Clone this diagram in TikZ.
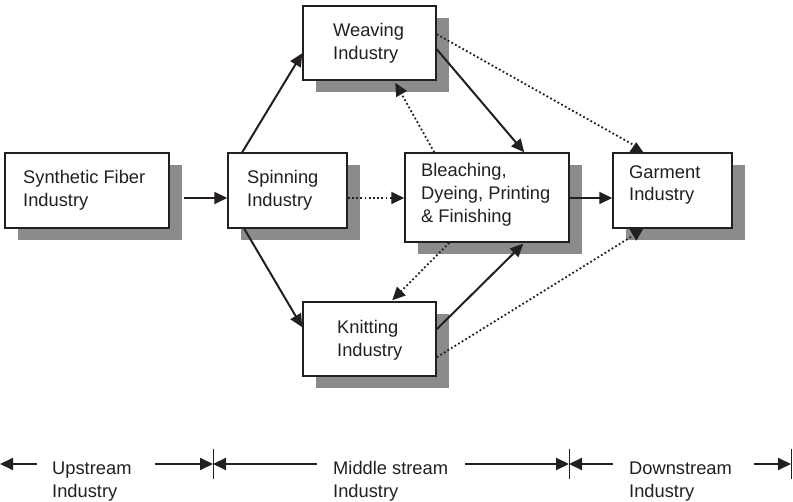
\documentclass[tikz,border=0pt]{standalone}
\usepackage{fontspec}
\setmainfont{Liberation Sans}
\usetikzlibrary{arrows.meta,calc,shadows}
\definecolor{ink}{HTML}{231F20}
\definecolor{shade}{HTML}{8B8B8D}
\begin{document}
\begin{tikzpicture}[x=1pt,y=-1pt,
  boxnode/.style={draw=ink, line width=1.5pt, fill=white, rectangle, inner sep=0pt,
    drop shadow={shadow xshift=13pt, shadow yshift=-12pt, fill=shade, opacity=1}},
  txt/.style={text=ink, font=\fontsize{18.3}{22.8}\selectfont, align=left, anchor=west, inner sep=0pt},
  con/.style={draw=ink, line width=2pt, -{Triangle[length=13pt,width=12pt]}},
  dotcon/.style={con, line width=1.8pt, dash pattern=on 1.8pt off 2.4pt},
  dotline/.style={draw=ink, line width=1.8pt, dash pattern=on 1.8pt off 2.4pt},
  tickline/.style={draw=ink, line width=1pt},
  barcon/.style={draw=ink, line width=2pt, -{Triangle[length=13pt,width=12pt]}}
]
\useasboundingbox (0,0) rectangle (793,502);

% boxes
\node[boxnode, minimum width=164pt, minimum height=75pt] (syn) at (87,190.5) {};
\node[boxnode, minimum width=119pt, minimum height=75pt] (spin) at (287.5,190.5) {};
\node[boxnode, minimum width=133pt, minimum height=74pt] (weav) at (369.5,43) {};
\node[boxnode, minimum width=133pt, minimum height=74pt] (knit) at (369.5,339) {};
\node[boxnode, minimum width=164pt, minimum height=89pt] (bleach) at (487,197.5) {};
\node[boxnode, minimum width=119pt, minimum height=75pt] (garm) at (672.5,190.5) {};

% texts
\node[txt] (synT) at (23,190) {Synthetic Fiber\\Industry};
\node[txt] (spinT) at (247,190) {Spinning\\Industry};
\node[txt] (weavT) at (333,43) {Weaving\\Industry};
\node[txt] (knitT) at (337,340.5) {Knitting\\Industry};
\node[txt] (bleachT) at (421,194.5) {Bleaching,\\Dyeing, Printing\\\& Finishing};
\node[txt] (garmT) at (629,185) {Garment\\Industry};

% connectors
\draw[con] ($(syn.east)+(14,7.5)$) -- ($(spin.west)+(0,7.5)$);
\draw[con] ($(spin.north west)+(15,0)$) -- ($(weav.north west)+(0,48)$);
\draw[con] ($(spin.south west)+(17,0)$) -- ($(knit.north west)+(0,26)$);
\draw[dotcon] ($(spin.east)+(0,7.5)$) -- ($(bleach.west)+(0,0.5)$);
\draw[con] ($(weav.north east)+(0,44)$) -- ($(bleach.north west)+(120,0)$);
\draw[dotcon] ($(bleach.north west)+(30,0)$) -- ($(weav.south west)+(93,2)$);
\draw[dotline] ($(weav.north east)+(0,29)$) -- ($(garm.north west)+(20,-8)$);
\fill[ink] ($(garm.north west)+(17,0)$) -- ($(garm.north west)+(31,0)$) -- ($(garm.north west)+(24,-10)$) -- cycle;
\draw[dotcon] ($(bleach.south west)+(45,0)$) -- ($(knit.north west)+(90,-1)$);
\draw[con] ($(knit.north east)+(0,28)$) -- ($(bleach.south west)+(119,1)$);
\draw[dotline] ($(knit.north east)+(0,56)$) -- ($(garm.south west)+(19,8)$);
\fill[ink] ($(garm.south west)+(17,0)$) -- ($(garm.south west)+(31,0)$) -- ($(garm.south west)+(24,12)$) -- cycle;
\draw[con] ($(bleach.east)+(0,0.5)$) -- ($(garm.west)+(0,7.5)$);

% bottom scale
\coordinate (b0) at (0,464);
\coordinate (b1) at (213,464);
\coordinate (b2) at (569,464);
\coordinate (b3) at (791,464);
\node[txt] (upT) at (52,481.5) {Upstream\\Industry};
\node[txt] (midT) at (333,481.5) {Middle stream\\Industry};
\node[txt] (downT) at (629,481.5) {Downstream\\Industry};
\draw[tickline] ($(b1)+(0,-15)$) -- ($(b1)+(0,15)$);
\draw[tickline] ($(b2)+(0,-15)$) -- ($(b2)+(0,15)$);
\draw[tickline] ($(b3)+(0,-15)$) -- ($(b3)+(0,15)$);
\draw[barcon] ($(upT.west |- b0)+(-15,0)$) -- (b0);
\draw[barcon] ($(upT.east |- b1)+(23,0)$) -- (b1);
\draw[barcon] ($(midT.west |- b1)+(-16,0)$) -- (b1);
\draw[barcon] ($(midT.east |- b2)+(17,0)$) -- (b2);
\draw[barcon] ($(downT.west |- b2)+(-16,0)$) -- (b2);
\draw[barcon] ($(downT.east |- b3)+(22,0)$) -- (b3);
\end{tikzpicture}
\end{document}
